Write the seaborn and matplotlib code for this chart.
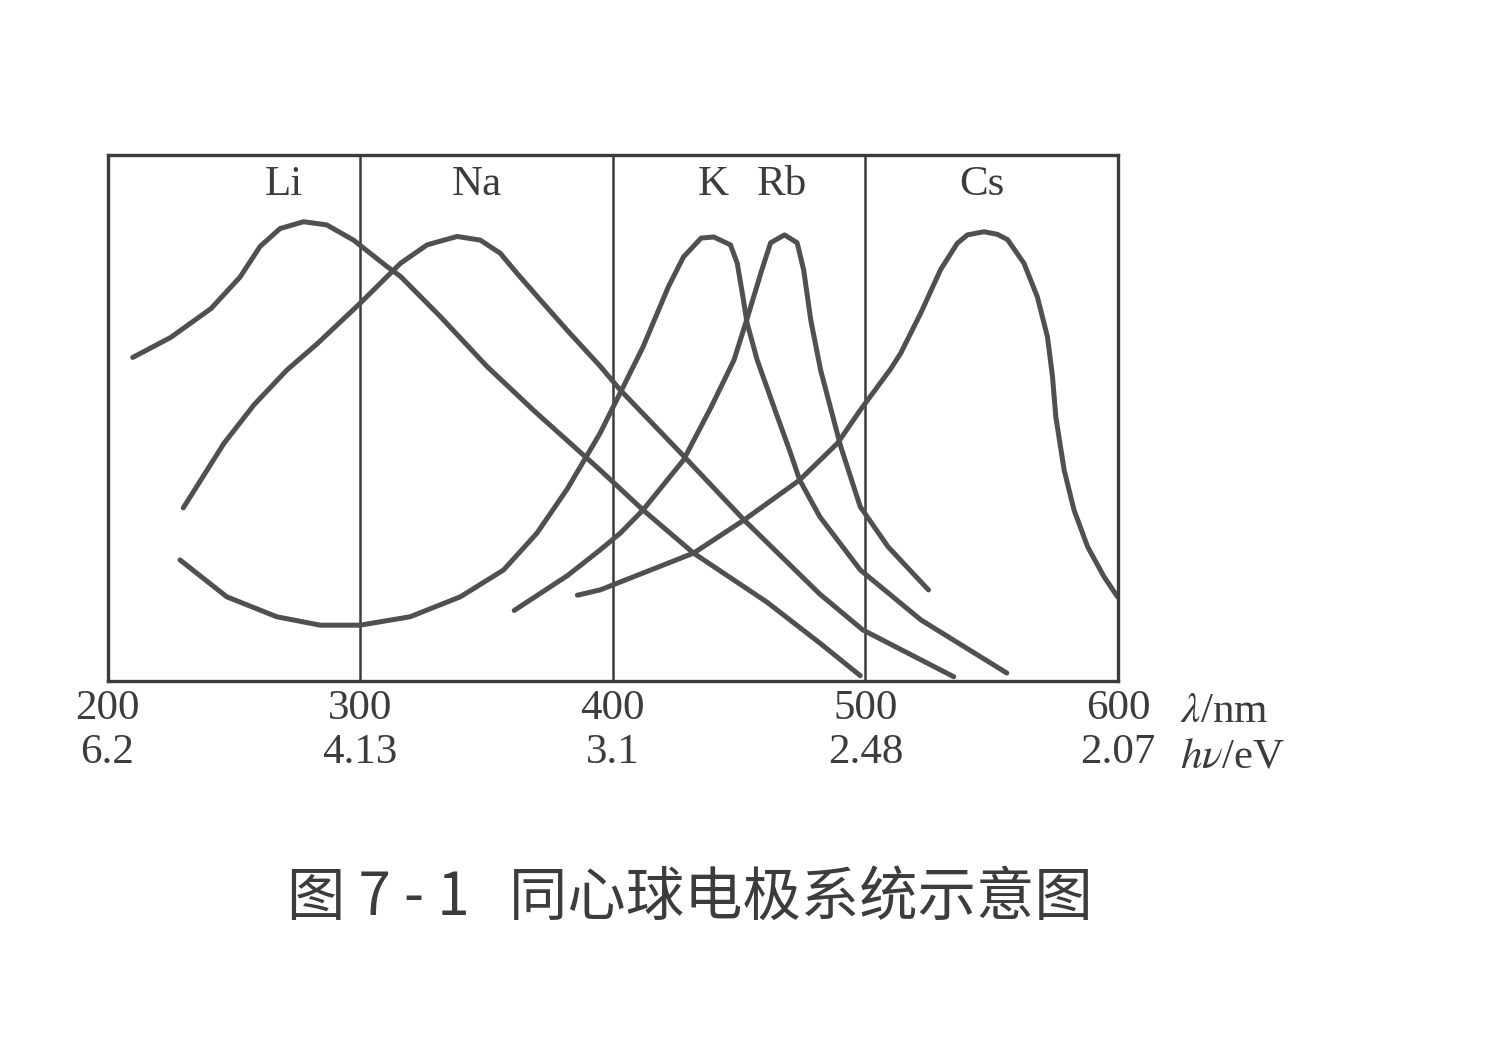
import pandas as pd
import seaborn as sns
import matplotlib.pyplot as plt

# wavelength (nm) and relative photoemission response
li_nm = [210, 225, 241, 252.5, 260.4, 268.3, 277.6, 286.8, 297.4, 310.6, 316, 331.7, 350.2, 369, 395, 412, 432, 461, 482, 498]
li_val = [61.5, 65.3, 70.8, 76.8, 82.6, 86.0, 87.3, 86.7, 83.8, 78.8, 76.9, 69.3, 59.8, 51.3, 40.1, 32.5, 24.3, 15.0, 7.2, 1.0]

na_nm = [230, 246, 258, 271, 283, 300, 316, 326.5, 338.4, 347.6, 355.5, 362.1, 371.4, 381.9, 395.1, 403, 427, 452, 482, 499, 535]
na_val = [32.9, 45.1, 52.5, 59.1, 64.1, 71.8, 79.4, 82.9, 84.5, 83.8, 81.3, 77.5, 72.4, 66.7, 59.8, 55.3, 43.3, 30.6, 16.5, 9.7, 0.8]

k_nm = [228.7, 247.2, 267, 284.2, 300, 319.8, 339.7, 356.8, 370, 382, 395, 403, 412, 422, 428, 435, 440, 446.6, 449.3, 451.3,
        453.2, 457.2, 463.8, 470.4, 474, 482, 498, 522, 556]
k_val = [23.0, 16.0, 12.2, 10.6, 10.6, 12.2, 16.0, 21.1, 28.1, 36.5, 47.1, 54.8, 63.5, 74.9, 80.6, 84.2, 84.4, 82.9, 79.4,
         73.7, 68.0, 61.0, 52.1, 43.3, 38.2, 31.2, 21.1, 11.6, 1.5]

rb_nm = [361, 382, 395, 403, 412, 428, 439, 448, 453, 459, 462.5, 468, 473, 475.6, 478.4, 482.3, 487.5, 490.3, 498, 509, 525]
rb_val = [13.4, 20.0, 24.9, 28.1, 32.5, 42.0, 52.1, 61.0, 68.6, 78.1, 83.3, 84.8, 83.3, 78.1, 68.6, 59.1, 49.6, 44.5, 33.1, 25.5, 17.3]

cs_nm = [386, 395, 432, 452, 474, 489, 498, 510, 514, 522, 529.8, 536.4, 540.4, 547, 552.3, 556.3, 562.8, 568.1, 572.1, 574.1,
         575.4, 578.7, 582.6, 588, 594.5, 599.8]
cs_val = [16.3, 17.3, 24.3, 30.6, 38.2, 45.2, 51.5, 59.3, 62.3, 70.0, 78.2, 83.2, 84.8, 85.4, 84.9, 83.9, 79.4, 73.0, 65.4, 57.8,
          50.2, 40.1, 32.5, 25.5, 19.8, 16.0]

metals = ["Li", "Na", "K", "Rb", "Cs"]
label_nm = [270, 346, 440, 467, 546]

tick_nm = [200, 300, 400, 500, 600]
tick_ev = ["6.2", "4.13", "3.1", "2.48", "2.07"]

caption = "图 7 - 1   同心球电极系统示意图"

frames = []
for name, xs, ys in zip(metals, [li_nm, na_nm, k_nm, rb_nm, cs_nm], [li_val, na_val, k_val, rb_val, cs_val]):
    frames.append(pd.DataFrame({"metal": name, "nm": xs, "val": ys}))
df = pd.concat(frames, ignore_index=True)

sns.set_theme(style="white")
plt.rcParams["font.family"] = ["Liberation Serif", "DejaVu Serif"]
plt.rcParams["mathtext.fontset"] = "stix"

ink = "#3c3c3c"
curve = "#505050"

fig = plt.figure(figsize=(14.91, 10.59), dpi=100)
ax = fig.add_axes([0.0721, 0.357, 0.6777, 0.4967])

sns.lineplot(data=df, x="nm", y="val", hue="metal", units="metal", estimator=None,
             palette=[curve] * 5, linewidth=3.6, legend=False, ax=ax)
for ln in ax.lines:
    ln.set_solid_joinstyle("round")
    ln.set_solid_capstyle("round")

ax.set_xlim(200, 600)
ax.set_ylim(0, 100)
ax.set_xticks(tick_nm)
ax.set_xticklabels([f"{a}\n{b}" for a, b in zip(tick_nm, tick_ev)], fontsize=31, color=ink, linespacing=1.18)
ax.set_yticks([])
ax.tick_params(axis="x", length=0, pad=6)
ax.set_xlabel("")
ax.set_ylabel("")

for xv in tick_nm[1:-1]:
    ax.axvline(xv, color=ink, lw=1.8, zorder=0)
for s in ax.spines.values():
    s.set_color(ink)
    s.set_linewidth(2.4)

for name, xv in zip(metals, label_nm):
    ax.text(xv, 94.3, name, ha="center", va="center", fontsize=31, color=ink)

fig.text(0.7914, 0.3277, r"$\lambda$/nm", fontsize=31, color=ink, va="center", ha="left")
fig.text(0.7914, 0.2852, r"$h\nu$/eV", fontsize=31, color=ink, va="center", ha="left")

fig.text(0.4628, 0.152, caption, fontsize=42, color=ink, ha="center", va="center",
         family=["Noto Sans CJK SC", "DejaVu Sans"])

fig.savefig("out.png", dpi=100, facecolor="white")
